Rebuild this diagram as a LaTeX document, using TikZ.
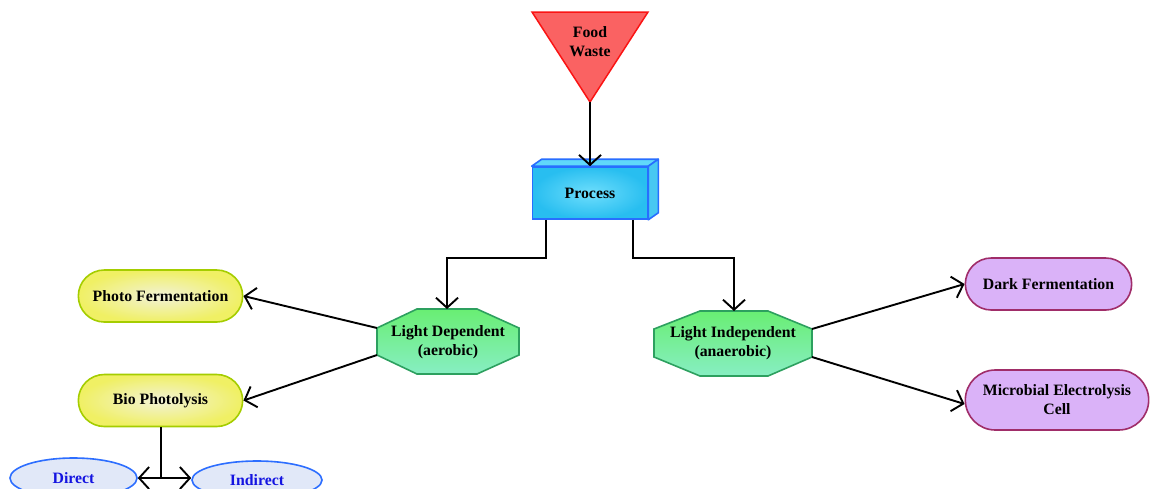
\documentclass[tikz,border=0pt]{standalone}
\usepackage{fontspec}
\setmainfont{Liberation Serif}
\usetikzlibrary{arrows.meta,shapes.misc,shapes.geometric,calc}
\definecolor{fwfill}{RGB}{250,98,98}
\definecolor{fwline}{RGB}{250,20,20}
\definecolor{prinner}{RGB}{110,222,252}
\definecolor{prouter}{RGB}{40,190,240}
\definecolor{prline}{RGB}{40,110,255}
\definecolor{octtop}{RGB}{105,238,115}
\definecolor{octbot}{RGB}{135,238,195}
\definecolor{octline}{RGB}{45,160,95}
\definecolor{yinner}{RGB}{242,242,215}
\definecolor{youter}{RGB}{240,240,100}
\definecolor{yline}{RGB}{165,205,0}
\definecolor{pfill}{RGB}{218,178,248}
\definecolor{pline}{RGB}{160,45,105}
\definecolor{efill}{RGB}{225,232,248}
\definecolor{eline}{RGB}{45,110,255}
\definecolor{etext}{RGB}{20,20,225}
\tikzset{
  lbl/.style={font=\fontsize{15.8}{19}\selectfont\bfseries, align=center, text=black},
  conn/.style={draw=black, line width=1.9pt, -{Straight Barb[length=10pt,width=22pt,line width=1.9pt]}},
  plain/.style={draw=black, line width=1.9pt},
  yellowpill/.style={rounded rectangle, draw=yline, line width=1.6pt, inner color=yinner, outer color=youter, minimum width=171pt, minimum height=52pt, lbl},
  purplepill/.style={rounded rectangle, draw=pline, line width=1.6pt, fill=pfill, minimum height=52pt, lbl},
  octa/.style={draw=octline, line width=1.6pt, top color=octtop, bottom color=octbot},
  oval/.style={ellipse, draw=eline, line width=1.6pt, fill=efill, lbl, text=etext}
}
\begin{document}
\begin{tikzpicture}[x=1pt,y=-1pt]
\useasboundingbox[fill=white] (0,0) rectangle (1151,488);

% Food waste triangle
\draw[fill=fwfill, draw=fwline, line width=1.5pt] (532,12) -- (648,12) -- (590,102) -- cycle;
\coordinate (fwapex) at (590,102);
\node[lbl] (fw) at (590,42) {Food\\Waste};

% Process box
\node[draw=prline, line width=1.6pt, inner color=prinner, outer color=prouter,
      minimum width=115pt, minimum height=52pt, lbl] (proc) at (590,193) {Process};
\draw[draw=prline, line width=1.6pt, fill=prinner!80!prouter, line join=round]
  (proc.north west) -- ++(10,-7) -- ($(proc.north east)+(10,-7)$) -- (proc.north east) -- cycle;
\draw[draw=prline, line width=1.6pt, fill=prouter!85!white, line join=round]
  (proc.north east) -- ++(10,-7) -- ($(proc.south east)+(10,-7)$) -- (proc.south east) -- cycle;

% Light Dependent octagon
\draw[octa] (417,309) -- (477,309) -- (519,328) -- (519,355) -- (477,374) -- (417,374) -- (377,355) -- (377,328) -- cycle;
\node[lbl] (ld) at (448,342) {Light Dependent\\(aerobic)};
\coordinate (ldtop) at (447,309);
\coordinate (ldul) at (377,328);
\coordinate (ldll) at (377,355);

% Light Independent octagon
\draw[octa] (700,311) -- (768,311) -- (812,329) -- (812,357) -- (768,376) -- (700,376) -- (654,357) -- (654,329) -- cycle;
\node[lbl] (li) at (733,343) {Light Independent\\(anaerobic)};
\coordinate (litop) at (734,311);
\coordinate (liur) at (812,329);
\coordinate (lilr) at (812,357);

% Yellow pills
\node[yellowpill] (pf) at (160.5,296) {Photo Fermentation};
\node[yellowpill] (bp) at (160.5,400.5) {Bio Photolysis};

% Purple pills
\node[purplepill, minimum width=173pt] (df) at (1048.5,284) {Dark Fermentation};
\node[purplepill, minimum width=190pt, minimum height=60pt] (mec) at (1057,400) {Microbial Electrolysis\\Cell};

% Ellipses
\node[oval, minimum width=127pt, minimum height=40pt] (dir) at (73.5,478) {Direct};
\node[oval, minimum width=130pt, minimum height=38pt] (ind) at (257,480) {Indirect};

% Connectors
\draw[conn] (fwapex) -- (proc.north);
\draw[conn] ($(proc.south west)+(14.5,0)$) |- (447,258) -- (ldtop);
\draw[conn] ($(proc.south east)+(-15,0)$) |- (734,258) -- (litop);
\draw[conn] (ldul) -- (pf.east);
\draw[conn] (ldll) -- (bp.east);
\draw[conn] (liur) -- (df.west);
\draw[conn] (lilr) -- ($(mec.west)+(0,4)$);
\coordinate (junc) at (161,478);
\draw[plain] (bp.south -| junc) -- (junc);
\draw[conn] (junc) -- (dir.east |- junc);
\draw[conn] (junc) -- (ind.west |- junc);
\end{tikzpicture}
\end{document}
